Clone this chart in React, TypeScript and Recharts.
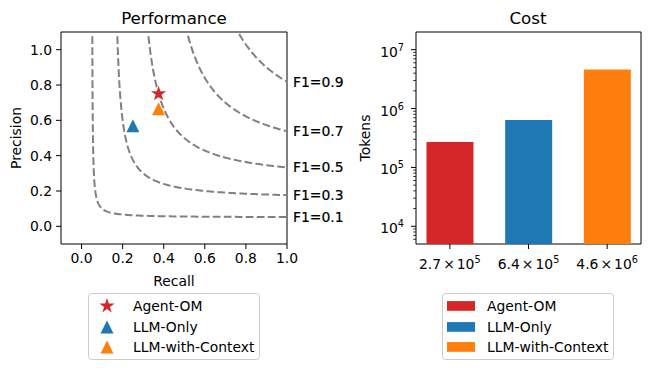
import {
  ComposedChart,
  Line,
  Scatter,
  XAxis,
  YAxis,
  ReferenceArea,
  ReferenceDot,
  BarChart,
  Bar,
  Cell,
} from 'recharts';

const FONT = '"DejaVu Sans", sans-serif';
const FS = 13.9;

// methods shared by both panels
const methods = ['Agent-OM', 'LLM-Only', 'LLM-with-Context'];
const colors = ['#d62728', '#1f77b4', '#ff7f0e'];
const markers = ['star', 'triangle', 'triangle'];

// performance panel
const recall = [0.375, 0.25, 0.375];
const precision = [0.75, 0.57, 0.665];
const f1Levels = [0.1, 0.3, 0.5, 0.7, 0.9];
const perfTicks = [0, 0.2, 0.4, 0.6, 0.8, 1.0];

// cost panel
const tokens = [2.7e5, 6.4e5, 4.6e6];
const tokenMantissa = ['2.7', '6.4', '4.6'];
const tokenExponent = ['5', '5', '6'];
const costMajor = [1e4, 1e5, 1e6, 1e7];
const costMinor = [
  6e3, 7e3, 8e3, 9e3,
  2e4, 3e4, 4e4, 5e4, 6e4, 7e4, 8e4, 9e4,
  2e5, 3e5, 4e5, 5e5, 6e5, 7e5, 8e5, 9e5,
  2e6, 3e6, 4e6, 5e6, 6e6, 7e6, 8e6, 9e6,
];

// iso-F1 curve: precision = f*r / (2r - f)
function isoF1(f: number) {
  const pts: { x: number; y: number }[] = [];
  const r0 = (f * 1.2) / (2.4 - f);
  for (let i = 0; i <= 120; i++) {
    const r = r0 + (1 - r0) * (i / 120) ** 2;
    pts.push({ x: r, y: (f * r) / (2 * r - f) });
  }
  return pts;
}

function starPoints(cx: number, cy: number, R: number) {
  const inner = R * 0.381966;
  const pts: string[] = [];
  for (let i = 0; i < 10; i++) {
    const a = -Math.PI / 2 + (i * Math.PI) / 5;
    const rr = i % 2 === 0 ? R : inner;
    pts.push(`${cx + rr * Math.cos(a)},${cy + rr * Math.sin(a)}`);
  }
  return pts.join(' ');
}

function Marker({ kind, cx, cy, color }: { kind: string; cx: number; cy: number; color: string }) {
  if (kind === 'star') {
    return <polygon points={starPoints(cx, cy, 8)} fill={color} />;
  }
  const h = 6.5;
  return (
    <polygon
      points={`${cx},${cy - h} ${cx - h},${cy + h} ${cx + h},${cy + h}`}
      fill={color}
    />
  );
}

function PerfTickX({ x, y, payload }: any) {
  return (
    <g>
      <line x1={x} y1={y} x2={x} y2={y + 5} stroke="#000" />
      <text x={x} y={y + 19} textAnchor="middle" fontSize={FS} fontFamily={FONT} fill="#000">
        {payload.value.toFixed(1)}
      </text>
    </g>
  );
}

function PerfTickY({ x, y, payload }: any) {
  return (
    <g>
      <line x1={x - 5} y1={y} x2={x} y2={y} stroke="#000" />
      <text x={x - 9} y={y + 5} textAnchor="end" fontSize={FS} fontFamily={FONT} fill="#000">
        {payload.value.toFixed(1)}
      </text>
    </g>
  );
}

function CostTickX({ x, y, payload }: any) {
  const i = payload.value as number;
  return (
    <g>
      <line x1={x} y1={y} x2={x} y2={y + 5} stroke="#000" />
      <text x={x} y={y + 25} textAnchor="middle" fontSize={FS} fontFamily={FONT} fill="#000">
        {tokenMantissa[i]}
        <tspan dx={2}>×</tspan>
        <tspan dx={2}>10</tspan>
        <tspan dy={-6} fontSize={9.7}>{tokenExponent[i]}</tspan>
      </text>
    </g>
  );
}

function CostTickY({ x, y, payload }: any) {
  const v = payload.value as number;
  if (!costMajor.includes(v)) {
    return <line x1={x - 2.8} y1={y} x2={x} y2={y} stroke="#000" strokeWidth={0.8} />;
  }
  return (
    <g>
      <line x1={x - 5} y1={y} x2={x} y2={y} stroke="#000" />
      <text x={x - 12} y={y + 7} textAnchor="end" fontSize={FS} fontFamily={FONT} fill="#000">
        10
        <tspan dy={-6} fontSize={9.7}>{String(Math.round(Math.log10(v)))}</tspan>
      </text>
    </g>
  );
}

function PerformanceChart() {
  return (
    <ComposedChart width={360} height={290} margin={{ top: 32, right: 73, bottom: 0, left: 0 }}>
      <XAxis
        type="number"
        dataKey="x"
        domain={[-0.1, 1.0]}
        ticks={perfTicks}
        interval={0}
        allowDataOverflow
        axisLine={false}
        tickLine={false}
        tickSize={0}
        tickMargin={0}
        height={46}
        tick={<PerfTickX />}
      />
      <YAxis
        type="number"
        dataKey="y"
        domain={[-0.1, 1.1]}
        ticks={perfTicks}
        interval={0}
        allowDataOverflow
        axisLine={false}
        tickLine={false}
        tickSize={0}
        tickMargin={0}
        width={61}
        tick={<PerfTickY />}
      />
      <ReferenceArea x1={-0.1} x2={1.0} y1={-0.1} y2={1.1} fill="none" stroke="#000" strokeWidth={1} />
      {f1Levels.map((f) => (
        <Line
          key={f}
          data={isoF1(f)}
          dataKey="y"
          type="linear"
          stroke="#808080"
          strokeWidth={2}
          strokeDasharray="7.7 3.3"
          dot={false}
          activeDot={false}
          isAnimationActive={false}
        />
      ))}
      {f1Levels.map((f) => (
        <ReferenceDot
          key={`lbl-${f}`}
          x={1.0}
          y={f / (2 - f)}
          r={1}
          fill="none"
          stroke="none"
          label={{
            value: `F1=${f}`,
            position: 'right',
            offset: 5,
            fill: '#000',
            stroke: '#000',
            strokeWidth: 0.2,
            fontSize: FS,
            fontFamily: FONT,
          }}
        />
      ))}
      {methods.map((m, i) => (
        <Scatter
          key={m}
          name={m}
          data={[{ x: recall[i], y: precision[i] }]}
          dataKey="y"
          isAnimationActive={false}
          shape={(p: any) => <Marker kind={markers[i]} cx={p.cx} cy={p.cy} color={colors[i]} />}
        />
      ))}
    </ComposedChart>
  );
}

function CostChart() {
  const data = tokens.map((t, i) => ({ x: i, y: t }));
  return (
    <BarChart width={309} height={290} data={data} margin={{ top: 32, right: 8, bottom: 0, left: 0 }}>
      <XAxis
        type="number"
        dataKey="x"
        domain={[-0.43, 2.43]}
        ticks={[0, 1, 2]}
        interval={0}
        axisLine={false}
        tickLine={false}
        tickSize={0}
        tickMargin={0}
        height={46}
        tick={<CostTickX />}
      />
      <YAxis
        scale="log"
        type="number"
        domain={[5000, 2e7]}
        ticks={[...costMinor, ...costMajor].sort((a, b) => a - b)}
        interval={0}
        allowDataOverflow
        axisLine={false}
        tickLine={false}
        tickSize={0}
        tickMargin={0}
        width={76}
        tick={<CostTickY />}
      />
      <Bar dataKey="y" barSize={47} isAnimationActive={false}>
        {data.map((d, i) => (
          <Cell key={i} fill={colors[i]} />
        ))}
      </Bar>
      <ReferenceArea x1={-0.43} x2={2.43} y1={5000} y2={2e7} fill="none" stroke="#000" strokeWidth={1} />
    </BarChart>
  );
}

function Overlay() {
  const rows = [13, 34, 54];
  return (
    <svg
      width={649}
      height={370}
      style={{ position: 'absolute', left: 0, top: 0, pointerEvents: 'none' }}
      fontFamily={FONT}
    >
      <text x={174} y={24} textAnchor="middle" fontSize={16.7} fill="#000">Performance</text>
      <text x={528} y={24} textAnchor="middle" fontSize={16.7} fill="#000">Cost</text>
      <text x={174} y={286} textAnchor="middle" fontSize={FS} fill="#000">Recall</text>
      <text x={21} y={138} textAnchor="middle" fontSize={FS} fill="#000" transform="rotate(-90 21 138)">
        Precision
      </text>
      <text x={370} y={138} textAnchor="middle" fontSize={FS} fill="#000" transform="rotate(-90 370 138)">
        Tokens
      </text>

      <g transform="translate(88,293)">
        <rect x={0.5} y={0.5} width={171} height={66} rx={3} fill="#fff" fillOpacity={0.8} stroke="#cccccc" />
        {methods.map((m, i) => (
          <g key={m}>
            <Marker kind={markers[i]} cx={19} cy={rows[i]} color={colors[i]} />
            <text x={45} y={rows[i] + 5} fontSize={FS} fill="#000">{m}</text>
          </g>
        ))}
      </g>

      <g transform="translate(442,293)">
        <rect x={0.5} y={0.5} width={171} height={66} rx={3} fill="#fff" fillOpacity={0.8} stroke="#cccccc" />
        {methods.map((m, i) => (
          <g key={m}>
            <rect x={5} y={rows[i] - 4.9} width={28} height={9.7} fill={colors[i]} />
            <text x={45} y={rows[i] + 5} fontSize={FS} fill="#000">{m}</text>
          </g>
        ))}
      </g>
    </svg>
  );
}

export default function App() {
  return (
    <div style={{ position: 'absolute', left: 0, top: 0, width: 649, height: 370, background: '#fff' }}>
      <div style={{ position: 'absolute', left: 0, top: 0 }}>
        <PerformanceChart />
      </div>
      <div style={{ position: 'absolute', left: 340, top: 0 }}>
        <CostChart />
      </div>
      <Overlay />
    </div>
  );
}
